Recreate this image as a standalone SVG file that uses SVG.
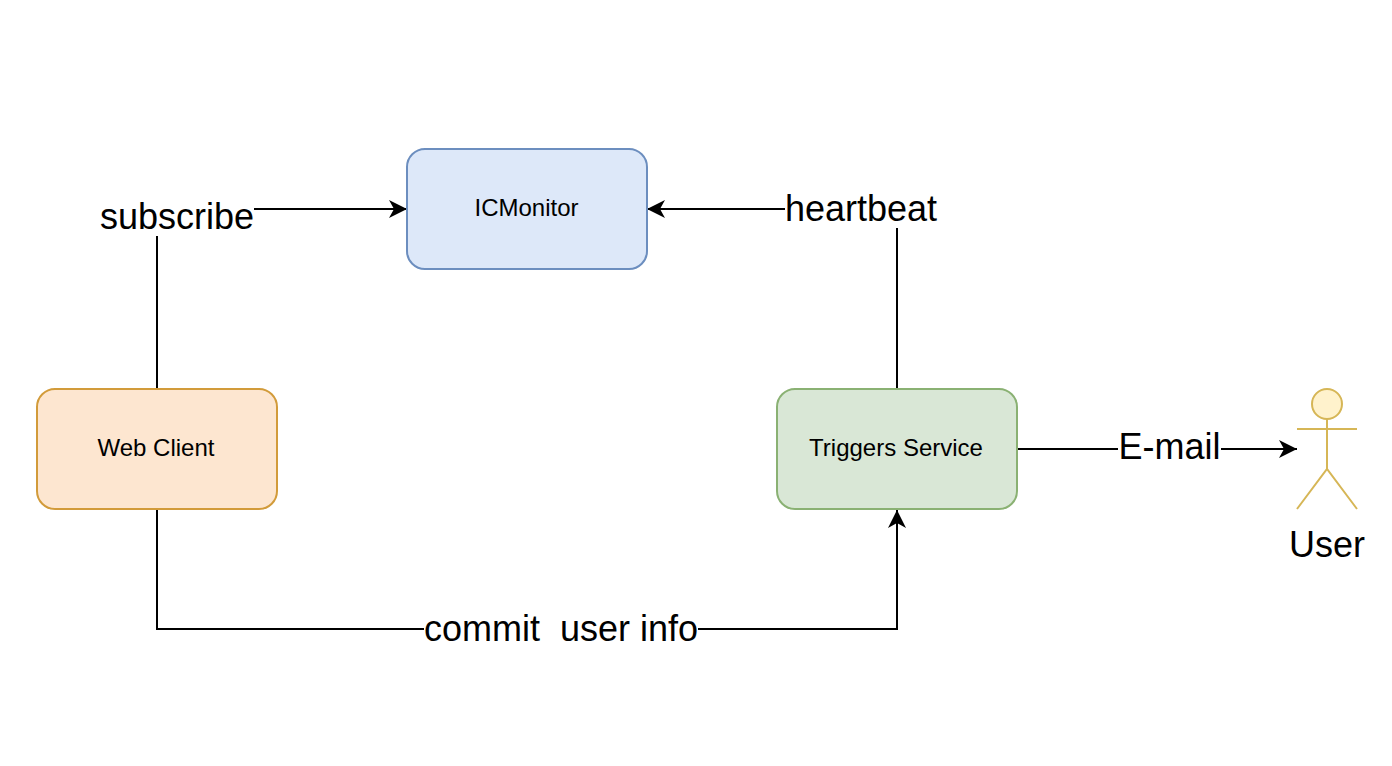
<svg xmlns="http://www.w3.org/2000/svg" width="1392" height="766" viewBox="0 0 1392 766">
<style>
text{font-family:"Liberation Sans",Arial,sans-serif;fill:#000;text-anchor:middle}
.n{font-size:24px}.l{font-size:36px}
.box{stroke-width:2}
.c{fill:none;stroke:#000;stroke-width:2}
</style>
<defs><marker id="a" markerUnits="userSpaceOnUse" markerWidth="20" markerHeight="20" refX="18" refY="10" orient="auto"><path d="M0 1L18 10L0 19L5 10Z" fill="#000"/></marker></defs>
<rect width="1392" height="766" fill="#fff"/>
<g id="connectors">
<path class="c" d="M157 389V209H407" marker-end="url(#a)"/>
<path class="c" d="M897 389V209H647" marker-end="url(#a)"/>
<path class="c" d="M157 509V629H897V510" marker-end="url(#a)"/>
<path class="c" d="M1018 449H1297" marker-end="url(#a)"/>
</g>
<g id="labels">
<rect x="100" y="198" width="154" height="38" fill="#fff"/><text class="l" x="177" y="229">subscribe</text>
<rect x="785" y="189" width="152" height="39" fill="#fff"/><text class="l" x="861" y="221">heartbeat</text>
<rect x="424" y="610" width="274" height="38" fill="#fff"/><text class="l" x="561" y="641" xml:space="preserve">commit  user info</text>
<rect x="1118" y="428" width="103" height="38" fill="#fff"/><text class="l" x="1169.500" y="459">E-mail</text>
</g>
<g id="icmonitor"><rect class="box" x="407" y="149" width="240" height="120" rx="18" fill="#dde8f9" stroke="#6c8ebf"/><text class="n" x="526.500" y="216">ICMonitor</text></g>
<g id="web-client"><rect class="box" x="37" y="389" width="240" height="120" rx="18" fill="#fde6d0" stroke="#d29b3a"/><text class="n" x="156" y="456">Web Client</text></g>
<g id="triggers-service"><rect class="box" x="777" y="389" width="240" height="120" rx="18" fill="#d9e7d6" stroke="#8ab173"/><text class="n" x="896" y="456">Triggers Service</text></g>
<g id="user" fill="none" stroke="#d6b656" stroke-width="2"><circle cx="1327" cy="404" r="15" fill="#fff2cc"/><path d="M1327 419V469M1297 429H1357M1297 509L1327 469L1357 509"/><text class="l" x="1327" y="557" stroke="none">User</text></g>
</svg>
